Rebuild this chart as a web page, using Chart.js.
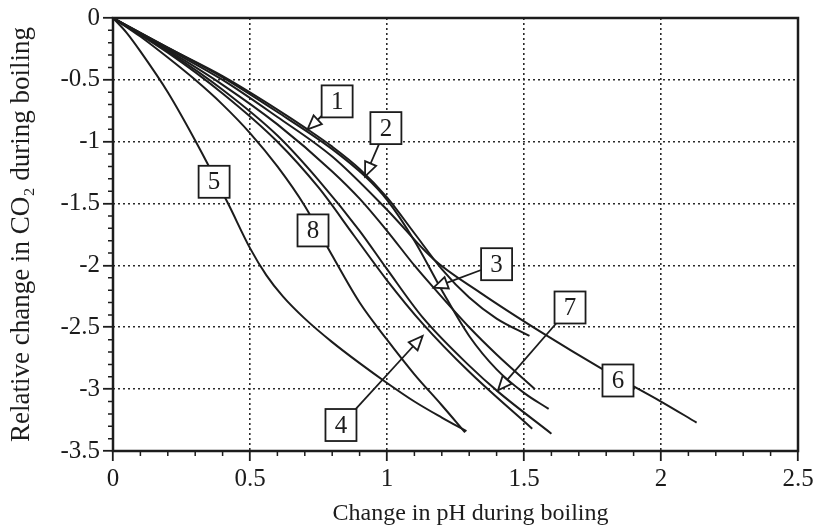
<!DOCTYPE html>
<html lang="en">
<head>
<meta charset="UTF-8">
<title>Relative change in CO2 vs change in pH during boiling</title>
<script src="https://cdn.jsdelivr.net/npm/chart.js"></script>
<style>
  html, body { margin: 0; padding: 0; background: #fff; }
</style>
</head>
<body>
<canvas id="chart" width="821" height="529"></canvas>
<script>
// curves: [change in pH, relative change in CO2]
const curve1 = [[0,0],[0.2,-0.24],[0.4,-0.47],[0.6,-0.74],[0.71,-0.9],[0.8,-1.04],[0.9,-1.22],[1.0,-1.45],[1.1,-1.74],[1.2,-2.03],[1.3,-2.26],[1.4,-2.43],[1.52,-2.57]];
const curve2 = [[0,0],[0.2,-0.24],[0.4,-0.48],[0.6,-0.76],[0.8,-1.06],[0.92,-1.28],[1.0,-1.47],[1.1,-1.8],[1.2,-2.2],[1.3,-2.57],[1.4,-2.84],[1.5,-3.03],[1.59,-3.16]];
const curve3 = [[0,0],[0.2,-0.26],[0.4,-0.54],[0.6,-0.86],[0.8,-1.24],[0.9,-1.46],[1.0,-1.72],[1.1,-2.0],[1.17,-2.18],[1.3,-2.5],[1.4,-2.72],[1.54,-3.0]];
const curve4 = [[0,0],[0.2,-0.28],[0.4,-0.61],[0.6,-1.0],[0.75,-1.37],[0.88,-1.76],[1.0,-2.12],[1.13,-2.47],[1.3,-2.86],[1.53,-3.32]];
const curve5 = [[0,0],[0.05,-0.12],[0.1,-0.27],[0.2,-0.6],[0.3,-0.99],[0.42,-1.5],[0.5,-1.86],[0.56,-2.08],[0.62,-2.25],[0.7,-2.43],[0.8,-2.62],[0.9,-2.79],[1.0,-2.95],[1.1,-3.1],[1.2,-3.23],[1.29,-3.34]];
const curve6 = [[0,0],[0.2,-0.25],[0.4,-0.5],[0.6,-0.8],[0.8,-1.12],[1.0,-1.55],[1.17,-1.95],[1.34,-2.22],[1.57,-2.55],[1.78,-2.83],[2.0,-3.1],[2.13,-3.27]];
const curve7 = [[0,0],[0.2,-0.27],[0.4,-0.58],[0.6,-0.95],[0.75,-1.31],[0.9,-1.72],[1.0,-2.03],[1.13,-2.42],[1.3,-2.81],[1.405,-3.02],[1.6,-3.36]];
const curve8 = [[0,0],[0.1,-0.15],[0.2,-0.32],[0.3,-0.5],[0.4,-0.7],[0.5,-0.93],[0.6,-1.2],[0.7,-1.52],[0.8,-1.92],[0.9,-2.3],[1.0,-2.6],[1.1,-2.88],[1.2,-3.13],[1.285,-3.35]];

const curves = [curve1, curve2, curve3, curve4, curve5, curve6, curve7, curve8];

// numbered boxes and the point each arrow points at (null = box sits on its curve)
const boxText = ['1', '2', '3', '4', '5', '6', '7', '8'];
const boxX    = [0.818, 0.996, 1.40, 0.832, 0.369, 1.843, 1.668, 0.73];
const boxY    = [-0.674, -0.89, -1.99, -3.29, -1.324, -2.93, -2.34, -1.717];
const tipX    = [0.71, 0.92, 1.17, 1.13, null, null, 1.405, null];
const tipY    = [-0.9, -1.28, -2.18, -2.57, null, null, -3.01, null];

const xTicks = [0, 0.5, 1, 1.5, 2, 2.5];
const yTicks = [0, -0.5, -1, -1.5, -2, -2.5, -3, -3.5];

const ink = '#1c1c1c';
const serif = '"Liberation Serif", "Times New Roman", serif';

const decorations = {
    id: 'decorations',
    afterDatasetsDraw(chart) {
        const {ctx, chartArea: a, scales: {x, y}} = chart;
        ctx.save();

        // minor ticks every 0.1
        ctx.strokeStyle = ink;
        ctx.lineWidth = 1.5;
        ctx.beginPath();
        for (let i = 1; i < 25; i++) {
            if (i % 5 === 0) continue;
            const px = x.getPixelForValue(i / 10);
            ctx.moveTo(px, a.bottom);
            ctx.lineTo(px, a.bottom + 5);
        }
        for (let i = 1; i < 35; i++) {
            if (i % 5 === 0) continue;
            const py = y.getPixelForValue(-i / 10);
            ctx.moveTo(a.left, py);
            ctx.lineTo(a.left - 5, py);
        }
        ctx.stroke();

        // frame
        ctx.lineWidth = 2.5;
        ctx.strokeRect(a.left, a.top, a.right - a.left, a.bottom - a.top);

        // boxes with arrows
        const bw = 31, bh = 32;
        ctx.font = '25px ' + serif;
        ctx.textAlign = 'center';
        ctx.textBaseline = 'middle';
        boxText.forEach((t, i) => {
            const cx = x.getPixelForValue(boxX[i]);
            const cy = y.getPixelForValue(boxY[i]);
            if (tipX[i] !== null) {
                const tx = x.getPixelForValue(tipX[i]);
                const ty = y.getPixelForValue(tipY[i]);
                const dx = tx - cx, dy = ty - cy;
                const s = Math.min(Math.abs((bw / 2) / dx) || 1e9, Math.abs((bh / 2) / dy) || 1e9);
                const sx = cx + dx * s, sy = cy + dy * s;
                const len = Math.hypot(tx - sx, ty - sy);
                const ux = (tx - sx) / len, uy = (ty - sy) / len;
                const hl = 14, hw = 6;
                const bx = tx - ux * hl, by = ty - uy * hl;
                ctx.lineWidth = 1.8;
                ctx.beginPath();
                ctx.moveTo(sx, sy);
                ctx.lineTo(bx, by);
                ctx.stroke();
                ctx.beginPath();
                ctx.moveTo(tx, ty);
                ctx.lineTo(bx - uy * hw, by + ux * hw);
                ctx.lineTo(bx + uy * hw, by - ux * hw);
                ctx.closePath();
                ctx.fillStyle = '#fff';
                ctx.fill();
                ctx.stroke();
            }
            ctx.fillStyle = '#fff';
            ctx.fillRect(cx - bw / 2, cy - bh / 2, bw, bh);
            ctx.lineWidth = 1.8;
            ctx.strokeRect(cx - bw / 2, cy - bh / 2, bw, bh);
            ctx.fillStyle = ink;
            ctx.fillText(t, cx, cy + 1);
        });
        ctx.restore();
    }
};

new Chart(document.getElementById('chart'), {
    type: 'scatter',
    data: {
        datasets: curves.map((c, i) => ({
            label: 'Curve ' + boxText[i],
            data: c.map(p => ({x: p[0], y: p[1]})),
            showLine: true,
            borderColor: ink,
            borderWidth: 2,
            pointRadius: 0,
            cubicInterpolationMode: 'monotone',
            fill: false
        }))
    },
    options: {
        responsive: false,
        animation: false,
        layout: {padding: {left: 4, top: 15, right: 23, bottom: 0}},
        plugins: {legend: {display: false}, tooltip: {enabled: false}},
        scales: {
            x: {
                type: 'linear', min: 0, max: 2.5,
                afterFit: s => { s.height = 78; },
                afterBuildTicks: s => { s.ticks = xTicks.map(v => ({value: v})); },
                ticks: {color: ink, font: {family: serif, size: 25}, padding: 3, maxRotation: 0,
                        callback: v => String(v)},
                grid: {color: '#2a2a2a', lineWidth: 1.6, tickLength: 10, tickColor: ink, tickWidth: 1.8},
                border: {display: false, dash: [2, 3]},
                title: {display: true, text: '\u00a0\u00a0\u00a0\u00a0\u00a0Change in pH during boiling', color: ink,
                        font: {family: serif, size: 24}, padding: {top: 0, bottom: 1}}
            },
            y: {
                type: 'linear', min: -3.5, max: 0,
                afterFit: s => { s.width = 109; },
                afterBuildTicks: s => { s.ticks = yTicks.map(v => ({value: v})); },
                ticks: {color: ink, font: {family: serif, size: 25}, padding: 3,
                        callback: v => String(v)},
                grid: {color: '#2a2a2a', lineWidth: 1.6, tickLength: 10, tickColor: ink, tickWidth: 1.8},
                border: {display: false, dash: [2, 3]},
                title: {display: true, text: 'Relative change in CO\u2082 during boiling', color: ink,
                        font: {family: serif, size: 27}, padding: {top: 2, bottom: 0}}
            }
        }
    },
    plugins: [decorations]
});
</script>
</body>
</html>
